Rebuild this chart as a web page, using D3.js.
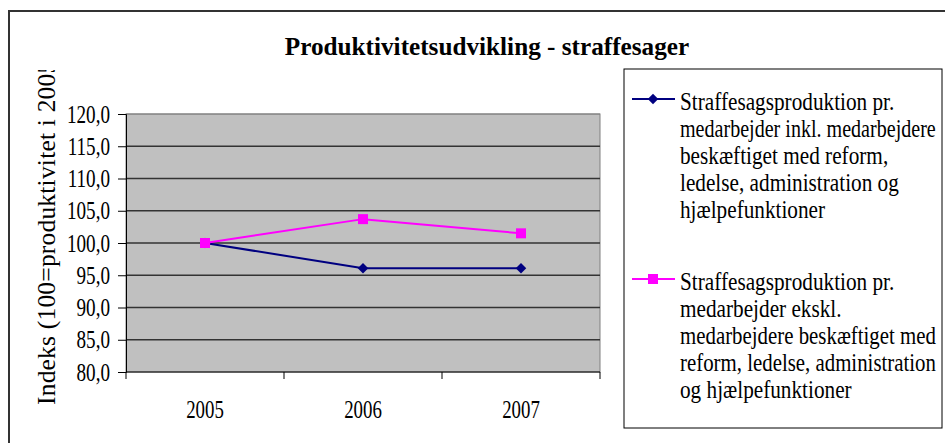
<!DOCTYPE html>
<html>
<head>
<meta charset="utf-8">
<script src="https://cdn.jsdelivr.net/npm/d3@7"></script>
<style>
  body { margin: 0; background: #fff; }
</style>
</head>
<body>
<svg id="chart" width="945" height="443"></svg>
<script>
// data
const years = ['2005', '2006', '2007'];
const inklValues = [100.0, 96.1, 96.1];
const ekskValues = [100.0, 103.7, 101.5];
const yTicks = [80, 85, 90, 95, 100, 105, 110, 115, 120];
const titleText = 'Produktivitetsudvikling - straffesager';
const yTitleText = 'Indeks (100=produktivitet i 2005)';
const inklLabel = ['Straffesagsproduktion pr.', 'medarbejder inkl. medarbejdere', 'beskæftiget med reform,', 'ledelse, administration og', 'hjælpefunktioner'];
const ekskLabel = ['Straffesagsproduktion pr.', 'medarbejder ekskl.', 'medarbejdere beskæftiget med', 'reform, ledelse, administration', 'og hjælpefunktioner'];

const FONT = '"Liberation Serif"';

const series = [
  { name: 'inkl', values: inklValues, color: '#000080', symbol: d3.symbolDiamond2, size: 70, label: inklLabel },
  { name: 'ekskl', values: ekskValues, color: '#ff00ff', symbol: d3.symbolSquare, size: 100, label: ekskLabel }
];

const svg = d3.select('#chart').style('font-family', FONT);
const plot = { left: 126, top: 114, right: 600, bottom: 372 };

const da = d3.formatLocale({ decimal: ',', thousands: '.', grouping: [3], currency: ['', ' kr.'] });
const fmt = da.format('.1f');

// squeeze text horizontally around its anchor x, the reference fonts look narrow
function condense(sel, k, maxW) {
  sel.each(function() {
    const w = this.getComputedTextLength();
    let kk = k;
    if (maxW && w * kk > maxW) kk = maxW / w;
    const ax = +d3.select(this).attr('x') || 0;
    d3.select(this).attr('transform', `translate(${ax * (1 - kk)},0) scale(${kk},1)`);
  });
}

// outer frame, runs off the right and bottom edge
svg.append('rect')
  .attr('x', 9).attr('y', 11)
  .attr('width', 960).attr('height', 460)
  .attr('fill', 'none').attr('stroke', '#333').attr('stroke-width', 2);

svg.append('text')
  .attr('x', 487).attr('y', 55)
  .attr('text-anchor', 'middle')
  .style('font-family', FONT)
  .style('font-size', '26px').style('font-weight', 'bold')
  .text(titleText)
  .call(condense, 0.97);

const x = d3.scaleBand().domain(years).range([plot.left, plot.right]);
const y = d3.scaleLinear().domain([80, 120]).range([plot.bottom, plot.top]);

svg.append('rect')
  .attr('x', plot.left).attr('y', plot.top)
  .attr('width', plot.right - plot.left).attr('height', plot.bottom - plot.top)
  .attr('fill', '#c0c0c0').attr('stroke', '#808080').attr('stroke-width', 1);

// gridlines
svg.append('g')
  .selectAll('line')
  .data(yTicks.slice(1, -1))
  .join('line')
  .attr('x1', plot.left).attr('x2', plot.right)
  .attr('y1', d => y(d)).attr('y2', d => y(d))
  .attr('stroke', '#333').attr('stroke-width', 1.3);

svg.append('line')
  .attr('x1', plot.left).attr('x2', plot.right)
  .attr('y1', y(120)).attr('y2', y(120))
  .attr('stroke', '#808080');

const yAxis = svg.append('g')
  .attr('transform', `translate(${plot.left},0)`)
  .call(d3.axisLeft(y).tickValues(yTicks).tickFormat(fmt).tickSize(8).tickPadding(8))
  .attr('font-family', null).attr('font-size', null);
yAxis.select('.domain').attr('stroke', '#000');
yAxis.selectAll('line').attr('stroke', '#000');
yAxis.selectAll('text')
  .style('font-family', FONT)
  .style('font-size', '25.5px').attr('fill', '#000')
  .call(condense, 0.75);

const xAxis = svg.append('g')
  .attr('transform', `translate(0,${plot.bottom})`)
  .call(d3.axisBottom(x).tickSize(0).tickPadding(28))
  .attr('font-family', null).attr('font-size', null);
xAxis.select('.domain').remove();
xAxis.selectAll('text')
  .style('font-family', FONT)
  .style('font-size', '25.5px').attr('fill', '#000')
  .call(condense, 0.74);

// category boundary ticks
svg.append('g')
  .selectAll('line')
  .data(years.map(d => x(d)).concat([plot.right]))
  .join('line')
  .attr('x1', d => d).attr('x2', d => d)
  .attr('y1', plot.bottom).attr('y2', plot.bottom + 7)
  .attr('stroke', '#000');
svg.append('line')
  .attr('x1', plot.left).attr('x2', plot.right)
  .attr('y1', plot.bottom).attr('y2', plot.bottom)
  .attr('stroke', '#000');

// y axis title, clipped at the top as in the original
svg.append('clipPath').attr('id', 'ytclip')
  .append('rect').attr('x', 0).attr('y', 70).attr('width', 100).attr('height', 360);
svg.append('g')
  .attr('clip-path', 'url(#ytclip)')
  .append('text')
  .attr('transform', 'translate(55,405) rotate(-90)')
  .style('font-family', FONT)
  .style('font-size', '25.5px')
  .style('letter-spacing', '0.2px')
  .text(yTitleText);

const cx = d => x(d) + x.bandwidth() / 2;
const line = d3.line().x((v, i) => cx(years[i])).y(v => y(v));

series.forEach(s => {
  svg.append('path')
    .datum(s.values)
    .attr('d', line)
    .attr('fill', 'none')
    .attr('stroke', s.color)
    .attr('stroke-width', 2);
  svg.append('g')
    .selectAll('path')
    .data(s.values)
    .join('path')
    .attr('transform', (v, i) => `translate(${cx(years[i])},${y(v)})`)
    .attr('d', d3.symbol(s.symbol, s.size))
    .attr('fill', s.color);
});

// legend
const legend = svg.append('g');
legend.append('rect')
  .attr('x', 624).attr('y', 69)
  .attr('width', 318).attr('height', 359)
  .attr('fill', '#fff').attr('stroke', '#000').attr('stroke-width', 1);

const legendTop = [110, 290];
const lineGap = 27;
series.forEach((s, si) => {
  const g = legend.append('g');
  const my = legendTop[si] - 11;
  g.append('line')
    .attr('x1', 632).attr('x2', 675)
    .attr('y1', my).attr('y2', my)
    .attr('stroke', s.color).attr('stroke-width', 2);
  g.append('path')
    .attr('transform', `translate(653,${my})`)
    .attr('d', d3.symbol(s.symbol, s.size))
    .attr('fill', s.color);
  g.selectAll('text')
    .data(s.label)
    .join('text')
    .attr('x', 680)
    .attr('y', (d, i) => legendTop[si] + i * lineGap)
    .style('font-family', FONT)
    .style('font-size', '25px')
    .text(d => d)
    .call(condense, 0.85, 256);
});
</script>
</body>
</html>
